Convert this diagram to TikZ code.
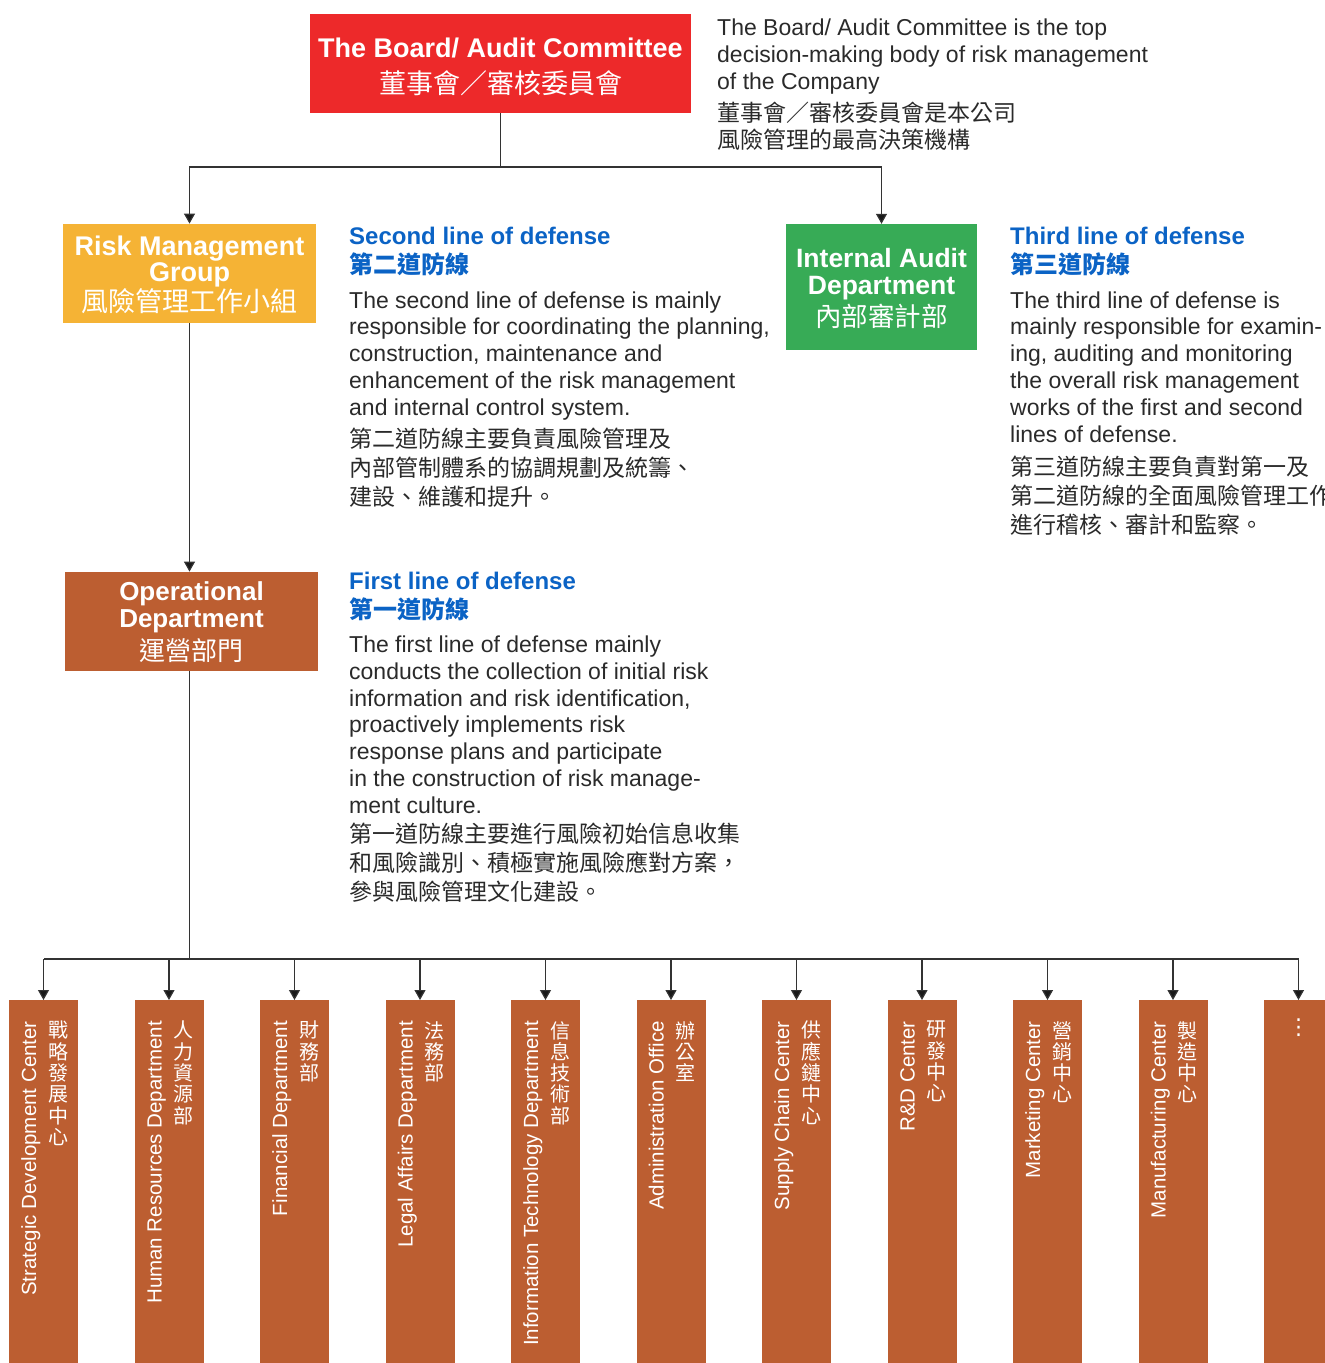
\documentclass[tikz,border=0pt]{standalone}
\usepackage{fontspec}
\setmainfont{Liberation Sans}
\newfontfamily\cjk{Noto Sans CJK TC}
\newfontfamily\symfont{DejaVu Sans}
\usetikzlibrary{arrows.meta}
\definecolor{boardred}{HTML}{ED292A}
\definecolor{riskyellow}{HTML}{F5B335}
\definecolor{auditgreen}{HTML}{37AB56}
\definecolor{opsbrown}{HTML}{BC5E31}
\definecolor{headblue}{HTML}{0B63C5}
\definecolor{textgray}{HTML}{2A2A2A}
\definecolor{linegray}{HTML}{333333}
\newcommand\sizefont[2]{\fontsize{#1}{#2}\selectfont\lineskiplimit=-100pt\relax}
\tikzset{
  conn/.style={line width=1.2pt, draw=linegray},
  arr/.style={conn, -{Triangle[width=11pt,length=10pt,fill=black!90]}},
  orgbox/.style={inner sep=0},
  boxlabel/.style={inner sep=0, text=white, align=center},
  headtext/.style={anchor=base west, inner sep=0, align=left, text=headblue, font=\sizefont{24}{29}\bfseries},
  bodytext/.style={anchor=base west, inner sep=0, align=left, text=textgray, font=\sizefont{23}{26.8}},
  zhtext/.style={anchor=base west, inner sep=0, align=left, text=textgray, font=\cjk\sizefont{23}{29}},
  deptbox/.style={fill=opsbrown, inner sep=0, minimum width=69, minimum height=363, anchor=north},
  depten/.style={rotate=90, anchor=base east, inner sep=0, text=white, font=\sizefont{20.5}{21}},
  deptzh/.style={anchor=north, inner sep=0, align=center, text=white, font=\cjk\sizefont{20}{21.3}}
}
\def\dept(#1:#2)#3#4{%
  \node[deptbox] (#1) at (#2,1000) {};
  \node[depten] (#1en) at ([xshift=-7.5pt,yshift=-21pt]#1.north) {#3};
  \node[deptzh] (#1zh) at ([xshift=14.8pt,yshift=-21pt]#1.north) {#4};
  \draw[arr] (bus -| #1.north) -- (#1.north);
}

\begin{document}
\begin{tikzpicture}[x=1pt,y=-1pt]
  %%%%% FRAME %%%%%
  \useasboundingbox (0,0) rectangle (1325,1363);
  \clip (0,0) rectangle (1325,1363);

  %%%%% BOXES %%%%%
  \node[orgbox, fill=boardred, minimum width=381, minimum height=99] (board) at (500.5,63.4) {};
  \node[boxlabel, font=\sizefont{27}{27}\bfseries] (boardlabel) at ([yshift=-3.7pt]board.center)
    {The Board/ Audit Committee\\[8.7pt]{\cjk\mdseries 董事會／審核委員會}};
  \node[orgbox, fill=riskyellow, minimum width=253, minimum height=99] (risk) at (189.5,273.3) {};
  \node[boxlabel, font=\sizefont{27}{26}\bfseries] (risklabel) at ([yshift=-1.5pt]risk.center)
    {Risk Management\\Group\\[4pt]{\cjk\mdseries 風險管理工作小組}};
  \node[orgbox, fill=auditgreen, minimum width=191, minimum height=126] (audit) at (881.5,287) {};
  \node[boxlabel, font=\sizefont{26.5}{27}\bfseries] (auditlabel) at ([yshift=-1pt]audit.center)
    {Internal Audit\\Department\\[5pt]{\cjk\mdseries 內部審計部}};
  \node[orgbox, fill=opsbrown, minimum width=253, minimum height=99] (ops) at (191.5,621.3) {};
  \node[boxlabel, font=\sizefont{26}{26.4}\bfseries] (opslabel) at ([yshift=-1pt]ops.center)
    {Operational\\Department\\[6.6pt]{\cjk\mdseries 運營部門}};

  %%%%% CONNECTORS %%%%%
  \coordinate (split) at (500.5,167);
  \coordinate (bus) at (189.5,959);
  \draw[conn] (board.south) -- (split);
  \draw[arr] (split) -| (risk.north);
  \draw[arr] (split) -| (audit.north);
  \draw[arr] (risk.south) -- (risk.south |- ops.north);
  \draw[conn] (risk.south |- ops.south) -- (bus);
  \draw[conn] (bus) -- (43.5,959) (bus) -- (1298.5,959);

  %%%%% TEXTS %%%%%
  % base anchor = last line
  \node[bodytext, font=\sizefont{23}{27}] (boardnote) at (717,89)
    {The Board/ Audit Committee is the top\\decision-making body of risk management\\of the Company};
  \node[zhtext, font=\cjk\sizefont{23}{27.3}] (boardnotezh) at (717,148.3)
    {董事會／審核委員會是本公司\\風險管理的最高決策機構};

  \node[headtext] (secondhead) at (349,273) {Second line of defense\\{\cjk 第二道防線}};
  \node[bodytext] (seconden) at (349,415.2)
    {The second line of defense is mainly\\responsible for coordinating the planning,\\construction, maintenance and\\enhancement of the risk management\\and internal control system.};
  \node[zhtext] (secondzh) at (349,505)
    {第二道防線主要負責風險管理及\\內部管制體系的協調規劃及統籌、\\建設、維護和提升。};

  \node[headtext] (thirdhead) at (1010,273) {Third line of defense\\{\cjk 第三道防線}};
  \node[bodytext] (thirden) at (1010,442)
    {The third line of defense is\\mainly responsible for examin-\\ing, auditing and monitoring\\the overall risk management\\works of the first and second\\lines of defense.};
  \node[zhtext] (thirdzh) at (1010,533)
    {第三道防線主要負責對第一及\\第二道防線的全面風險管理工作\\進行稽核、審計和監察。};

  \node[headtext] (firsthead) at (349,618) {First line of defense\\{\cjk 第一道防線}};
  \node[bodytext] (firsten) at (349,813.3)
    {The first line of defense mainly\\conducts the collection of initial risk\\information and risk identification,\\proactively implements risk\\response plans and participate\\in the construction of risk manage-\\ment culture.};
  \node[zhtext] (firstzh) at (349,900.5)
    {第一道防線主要進行風險初始信息收集\\和風險識別、積極實施風險應對方案，\\參與風險管理文化建設。};

  %%%%% DEPARTMENTS %%%%%
  \dept(d1:43.5){Strategic Development Center}{戰\\略\\發\\展\\中\\心}
  \dept(d2:169){Human Resources Department}{人\\力\\資\\源\\部}
  \dept(d3:294.5){Financial Department}{財\\務\\部}
  \dept(d4:420){Legal Affairs Department}{法\\務\\部}
  \dept(d5:545.5){Information Technology Department}{信\\息\\技\\術\\部}
  \dept(d6:671){Administration Office}{辦\\公\\室}
  \dept(d7:796.5){Supply Chain Center}{供\\應\\鏈\\中\\心}
  \dept(d8:922){R\&D Center}{研\\發\\中\\心}
  \dept(d9:1047.5){Marketing Center}{營\\銷\\中\\心}
  \dept(d10:1173){Manufacturing Center}{製\\造\\中\\心}
  \node[deptbox] (d11) at (1298.5,1000) {};
  \node[text=white, inner sep=0, anchor=north, font=\symfont\sizefont{22}{22}] (more) at ([yshift=-19pt]d11.north) {⋮};
  \draw[arr] (bus -| d11.north) -- (d11.north);
\end{tikzpicture}
\end{document}
